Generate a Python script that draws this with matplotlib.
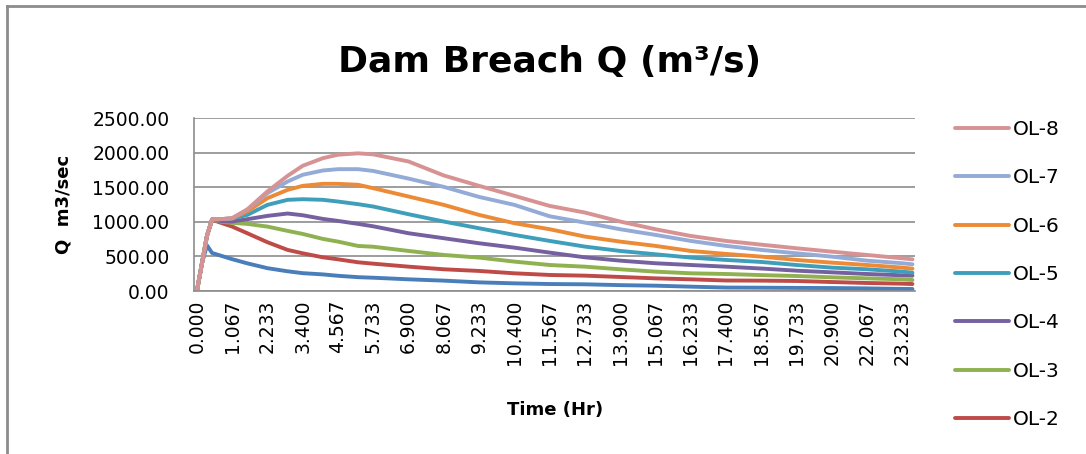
import matplotlib
matplotlib.use("Agg")
import matplotlib.pyplot as plt
from matplotlib.lines import Line2D

# category labels shown on the time axis (every 7th time step)
tick_labels = ["0.000", "1.067", "2.233", "3.400", "4.567", "5.733", "6.900",
               "8.067", "9.233", "10.400", "11.567", "12.733", "13.900", "15.067",
               "16.233", "17.400", "18.567", "19.733", "20.900", "22.067", "23.233"]
n_steps = 143  # number of time steps in the sheet

idx = [0, 1, 2, 3, 5, 7, 10, 14, 18, 21, 25, 28, 32, 35, 42, 49, 56, 63, 70,
       77, 84, 91, 98, 105, 112, 119, 126, 133, 140, 142]

ol1 = [0, 400, 660, 550, 505, 460, 400, 330, 285, 258, 240, 220, 200, 192, 169,
       150, 125, 111, 101, 97, 85, 77, 63, 50, 48, 45, 43, 38, 30, 29]
ol2 = [0, 400, 800, 1030, 980, 931, 835, 705, 594, 545, 487, 458, 415, 395, 352,
       314, 290, 256, 232, 222, 203, 183, 169, 152, 150, 145, 130, 116, 106, 101]
ol3 = [0, 400, 800, 1030, 1000, 985, 970, 931, 869, 825, 753, 714, 651, 640, 579,
       521, 483, 425, 376, 352, 314, 280, 256, 246, 230, 217, 198, 183, 169, 159]
ol4 = [0, 400, 800, 1030, 1010, 1005, 1038, 1086, 1120, 1095, 1042, 1013, 970, 935,
       835, 763, 690, 627, 555, 487, 439, 401, 376, 352, 325, 294, 270, 246, 227, 222]
ol5 = [0, 400, 800, 1035, 1040, 1045, 1100, 1245, 1318, 1327, 1318, 1293, 1255,
       1221, 1110, 1004, 907, 811, 724, 642, 579, 531, 483, 449, 420, 376, 338, 314,
       280, 265]
ol6 = [0, 400, 800, 1035, 1040, 1050, 1150, 1342, 1462, 1520, 1549, 1549, 1535,
       1486, 1366, 1245, 1100, 980, 893, 787, 714, 652, 579, 536, 497, 449, 410, 376,
       338, 323]
ol7 = [0, 400, 800, 1035, 1040, 1052, 1175, 1414, 1583, 1680, 1742, 1761, 1761,
       1735, 1625, 1505, 1360, 1245, 1080, 989, 893, 811, 724, 652, 594, 545, 497,
       439, 401, 386]
ol8 = [0, 400, 800, 1035, 1040, 1052, 1180, 1440, 1665, 1810, 1920, 1970, 1990,
       1975, 1872, 1670, 1520, 1376, 1230, 1134, 1004, 893, 796, 724, 670, 618, 569,
       521, 473, 458]

names = ["OL-1", "OL-2", "OL-3", "OL-4", "OL-5", "OL-6", "OL-7", "OL-8"]
colors = ["#4a7ebb", "#be4b48", "#8fb150", "#7560a0", "#3f9fba", "#ec8a36",
          "#93abd6", "#d79393"]
series = [ol1, ol2, ol3, ol4, ol5, ol6, ol7, ol8]

plt.rcParams['font.family'] = ['DejaVu Sans']
fig = plt.figure(figsize=(10.86, 4.54), dpi=100)
ax = fig.add_axes([0.179, 0.359, 0.6635, 0.381])

for vals, c in zip(series, colors):
    ax.plot(idx, vals, color=c, lw=2.8, solid_capstyle='round')

ax.set_xlim(-0.5, n_steps - 0.5)
ax.set_ylim(0, 2500)
ax.set_yticks([0, 500, 1000, 1500, 2000, 2500])
ax.set_yticklabels(["%.2f" % v for v in ax.get_yticks()])
ax.set_xticks(range(0, 7 * len(tick_labels), 7))
ax.set_xticklabels(tick_labels, rotation=90)
ax.tick_params(axis='y', length=0, pad=18, labelsize=13.5)
ax.tick_params(axis='x', length=0, pad=6, labelsize=13.5)
ax.grid(axis='y', color='#8c8c8c', lw=1.2)
ax.set_axisbelow(True)
for s in ['top', 'right']:
    ax.spines[s].set_visible(False)
for s in ['left', 'bottom']:
    ax.spines[s].set_color('#8c8c8c')
    ax.spines[s].set_linewidth(1.2)

ax.set_ylabel("Q  m3/sec", fontsize=13, fontweight='bold', labelpad=14)
ax.set_xlabel("Time (Hr)", fontsize=13, fontweight='bold', labelpad=26)
fig.text(0.506, 0.863, "Dam Breach Q (m³/s)", fontsize=26, fontweight='bold',
         ha='center', va='center')

# legend lists OL-8 down to OL-2 (OL-1 falls outside the chart frame)
handles = [Line2D([], [], color=colors[k], lw=2.8, solid_capstyle='round')
           for k in range(7, 0, -1)]
labels = [names[k] for k in range(7, 0, -1)]
fig.legend(handles, labels, loc='upper left', bbox_to_anchor=(0.879, 0.736),
           frameon=False, fontsize=14.5, handlelength=2.7, handletextpad=0.2,
           labelspacing=1.46, borderpad=0, borderaxespad=0)

# chart frame (left and top edge visible in the crop)
fig.add_artist(Line2D([0.0065, 0.0065], [0, 0.987], color='#8c8c8c', lw=2,
                      transform=fig.transFigure))
fig.add_artist(Line2D([0.0065, 1], [0.987, 0.987], color='#8c8c8c', lw=2,
                      transform=fig.transFigure))

fig.savefig("out.png", dpi=100)
